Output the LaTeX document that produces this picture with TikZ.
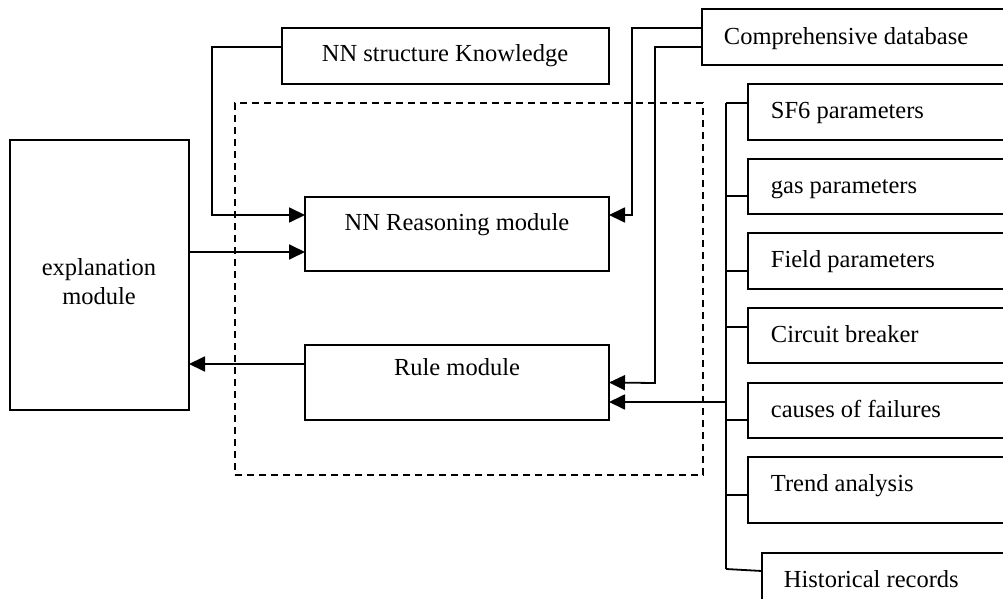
\documentclass[tikz,border=0pt]{standalone}
\usepackage{fontspec}
\setmainfont{Liberation Serif}
\usetikzlibrary{arrows.meta}
\begin{document}
\begin{tikzpicture}[x=1pt,y=-1pt,line width=1.8pt,
  box/.style={draw,rectangle,inner sep=0pt,outer sep=0pt,anchor=north west},
  dashbox/.style={draw,rectangle,inner sep=0pt,outer sep=0pt,anchor=north west,line width=1.5pt,dash pattern=on 7pt off 5pt},
  txt/.style={inner sep=0pt,font=\fontsize{24.5}{28.5}\selectfont},
  arr/.style={-{Triangle[length=16pt,width=15pt]}}]
\useasboundingbox (0,0) rectangle (1003,599);
\clip (0,0) rectangle (1003,599);
\fill[white] (0,0) rectangle (1003,599);
% boxes
\node[box,minimum width=327pt,minimum height=56pt] (know) at (282,28) {};
\node[box,minimum width=304pt,minimum height=74pt] (nnr) at (305,197) {};
\node[box,minimum width=304pt,minimum height=75pt] (rule) at (305,345) {};
\node[box,minimum width=179pt,minimum height=270pt] (expl) at (10,140) {};
\node[dashbox,minimum width=468pt,minimum height=372pt] (dash) at (235,103) {};
\node[box,minimum width=330pt,minimum height=56pt] (db) at (702,9) {};
\node[box,minimum width=280pt,minimum height=56pt] (sf6) at (748,84) {};
\node[box,minimum width=280pt,minimum height=55pt] (gas) at (748,159) {};
\node[box,minimum width=280pt,minimum height=56pt] (field) at (748,233) {};
\node[box,minimum width=280pt,minimum height=55pt] (cb) at (748,308) {};
\node[box,minimum width=280pt,minimum height=55pt] (cof) at (748,383) {};
\node[box,minimum width=280pt,minimum height=66pt] (trend) at (748,457) {};
\node[box,minimum width=280pt,minimum height=60pt] (hist) at (762,553) {};
% texts
\node[txt,anchor=base] (tknow) at (445,62) {NN structure Knowledge};
\node[txt,anchor=base] (tnnr) at (457,230) {NN Reasoning module};
\node[txt,anchor=base] (trule) at (457,375) {Rule module};
\node[txt,anchor=base,align=center] (texpl) at (99,304) {explanation\\module};
\node[txt,anchor=base west] (tdb) at (723,45) {Comprehensive database};
\node[txt,anchor=base west] (tsf6) at (770,118) {SF6 parameters};
\node[txt,anchor=base west] (tgas) at (770,193) {gas parameters};
\node[txt,anchor=base west] (tfield) at (770,267) {Field parameters};
\node[txt,anchor=base west] (tcb) at (770,342) {Circuit breaker};
\node[txt,anchor=base west] (tcof) at (770,417) {causes of failures};
\node[txt,anchor=base west] (ttrend) at (770,491) {Trend analysis};
\node[txt,anchor=base west] (thist) at (783,587) {Historical records};
% connectors
\coordinate (n1) at ([yshift=19pt]nnr.west);
\coordinate (n2) at ([yshift=-18pt]nnr.west);
\coordinate (n3) at ([yshift=19pt]nnr.east);
\coordinate (r1) at ([yshift=18.5pt]rule.west);
\coordinate (r2) at (rule.east);
\coordinate (r3) at ([yshift=-19.5pt]rule.east);
\draw[arr] ([yshift=9pt]know.west) -| (212,215) -- (n1);
\draw[arr] (expl.east |- n2) -- (n2);
\draw[arr] (r1) -- (expl.east |- r1);
\draw[arr] ([yshift=9pt]db.west) -| (632,215) -- (n3);
\draw[arr] ([yshift=-10pt]db.west) -| (655,383) -- (r2);
\coordinate (bus) at (726,0);
\coordinate (b1) at ([yshift=9pt]sf6.west);
\coordinate (b2) at ([yshift=-9.5pt]gas.west);
\coordinate (b3) at ([yshift=-10pt]field.west);
\coordinate (b4) at ([yshift=8.5pt]cb.west);
\coordinate (b5) at ([yshift=-9.5pt]cof.west);
\coordinate (b6) at ([yshift=-5pt]trend.west);
\coordinate (b7) at ([yshift=12pt]hist.west);
\draw (bus |- b1) -- (726,569);
\draw (bus |- b1) -- (b1);
\draw (bus |- b2) -- (b2);
\draw (bus |- b3) -- (b3);
\draw (bus |- b4) -- (b4);
\draw (bus |- b5) -- (b5);
\draw (bus |- b6) -- (b6);
\draw (726,569) -- (b7);
\draw[arr] (bus |- r3) -- (r3);
\end{tikzpicture}
\end{document}
